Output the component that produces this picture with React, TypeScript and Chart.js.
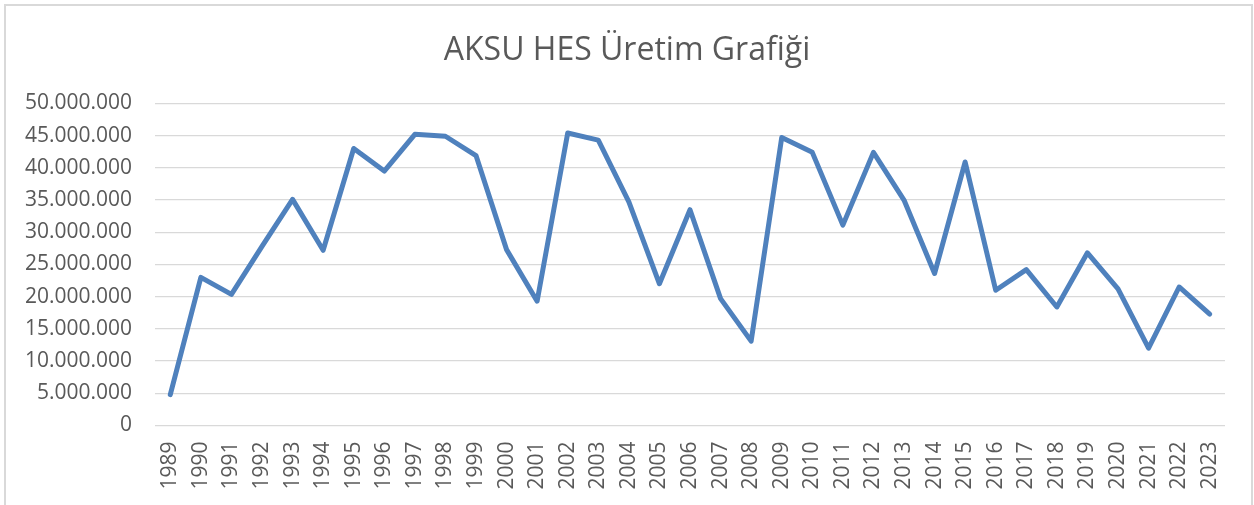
import React, { useEffect, useRef } from "react";
import { Chart, registerables } from "chart.js";

Chart.register(...registerables);

const chartTitle = "AKSU HES Üretim Grafiği";

const years = [
  "1989", "1990", "1991", "1992", "1993", "1994", "1995", "1996", "1997", "1998",
  "1999", "2000", "2001", "2002", "2003", "2004", "2005", "2006", "2007", "2008",
  "2009", "2010", "2011", "2012", "2013", "2014", "2015", "2016", "2017", "2018",
  "2019", "2020", "2021", "2022", "2023",
];

const production = [
  4800000, 23000000, 20350000, 27800000, 35100000, 27200000, 43000000, 39500000, 45200000, 44900000,
  41900000, 27300000, 19300000, 45400000, 44300000, 34700000, 22000000, 33500000, 19700000, 13100000,
  44700000, 42400000, 31100000, 42400000, 35000000, 23600000, 40900000, 21000000, 24200000, 18400000,
  26800000, 21200000, 12000000, 21500000, 17300000,
];

const yMin = 0;
const yMax = 50000000;
const yStep = 5000000;

const formatTR = (v: number) =>
  String(Math.round(v)).replace(/\B(?=(\d{3})+(?!\d))/g, ".");

export default function App() {
  const canvasRef = useRef<HTMLCanvasElement | null>(null);

  useEffect(() => {
    document.body.style.margin = "0";
    document.body.style.overflow = "hidden";
    const canvas = canvasRef.current;
    if (!canvas) return;
    const textColor = "#595959";
    const font = "'Open Sans', 'Noto Sans', sans-serif";
    const chart = new Chart(canvas, {
      type: "line",
      data: {
        labels: years,
        datasets: [
          {
            label: "Üretim",
            data: production,
            borderColor: "#4F81BD",
            backgroundColor: "#4F81BD",
            borderWidth: 5,
            pointRadius: 0,
            pointHoverRadius: 0,
            tension: 0,
            borderJoinStyle: "round",
            borderCapStyle: "round",
            fill: false,
            yAxisID: "y",
          },
        ],
      },
      options: {
        animation: false,
        responsive: false,
        maintainAspectRatio: false,
        layout: { padding: 0 },
        plugins: {
          legend: { display: false },
          tooltip: { enabled: false },
          title: {
            display: true,
            text: chartTitle,
            color: textColor,
            font: { family: font, size: 32, weight: "normal", lineHeight: 1.2 },
            padding: { top: 32, bottom: 33 },
          },
        },
        scales: {
          x: {
            type: "category",
            offset: true,
            grid: { display: false, drawTicks: false },
            border: { display: false },
            ticks: {
              color: textColor,
              font: { family: font, size: 21 },
              minRotation: 90,
              maxRotation: 90,
              autoSkip: false,
              padding: 16,
            },
            afterFit: (scale: any) => {
              scale.height = 79.5;
            },
          },
          y: {
            min: yMin,
            max: yMax,
            grid: { color: "#d9d9d9", lineWidth: 1.3, drawTicks: false },
            border: { display: false },
            ticks: {
              stepSize: yStep,
              color: textColor,
              font: { family: font, size: 21 },
              padding: 23,
              callback: (v: any) => formatTR(Number(v)),
            },
            afterFit: (scale: any) => {
              scale.width = 155;
            },
          },
          yRightSpace: {
            type: "linear",
            position: "right",
            min: yMin,
            max: yMax,
            grid: { display: false, drawTicks: false },
            border: { display: false },
            ticks: { display: false },
            afterFit: (scale: any) => {
              scale.width = 29;
            },
          },
        },
      },
    });
    return () => chart.destroy();
  }, []);

  return (
    <div style={{ position: "absolute", left: 0, top: 0, width: 1254, height: 505, background: "#fff" }}>
      <canvas ref={canvasRef} width={1254} height={505} style={{ position: "absolute", left: 0, top: 0 }} />
      <div
        style={{
          position: "absolute",
          left: 4,
          top: 4,
          width: 1249,
          height: 501,
          boxSizing: "border-box",
          borderTop: "2px solid #d9d9d9",
          borderLeft: "2px solid #d9d9d9",
          borderRight: "2px solid #d9d9d9",
          pointerEvents: "none",
        }}
      />
    </div>
  );
}
